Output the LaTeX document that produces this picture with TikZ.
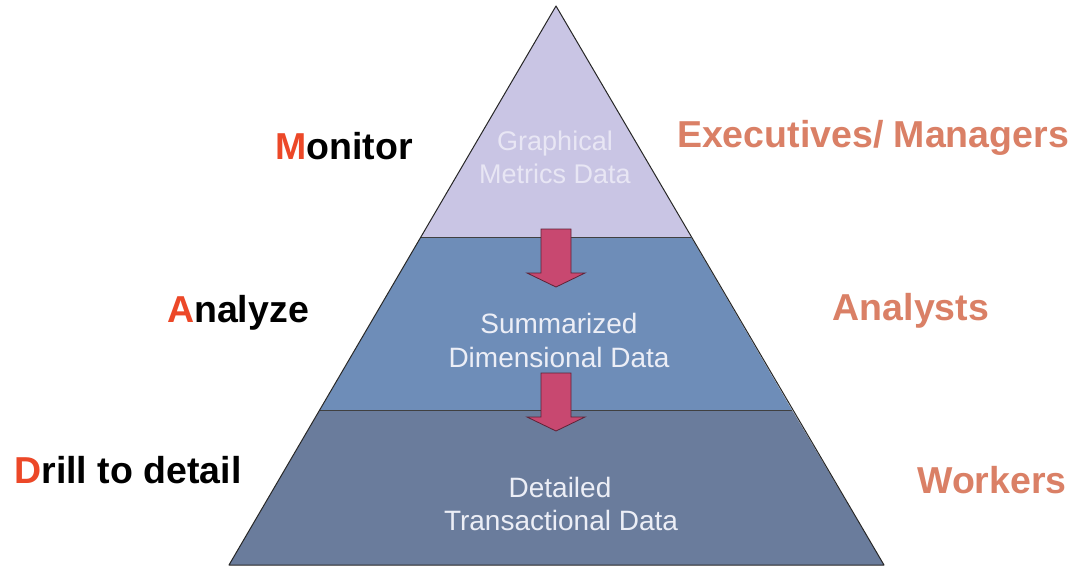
\documentclass[tikz,border=0pt]{standalone}
\usepackage{fontspec}
\setmainfont{Liberation Sans}
\begin{document}
\begin{tikzpicture}[x=1pt,y=-1pt,
  tierline/.style={draw=black!75, line width=0.8pt},
  outline/.style={draw=black!85, line width=1pt, line join=round},
  blockarrow/.style={fill=arrowpink, draw=arrowdark, line width=0.8pt, line join=miter},
  leftlabel/.style={anchor=base, font=\fontsize{37.5}{40}\selectfont\bfseries, text=black},
  rightlabel/.style={anchor=base, font=\fontsize{37.5}{40}\selectfont\bfseries, text=salmon},
  innertext/.style={anchor=base, font=\fontsize{28}{30}\selectfont, text=innerwhite},
]
\definecolor{topfill}{RGB}{201,197,228}
\definecolor{midfill}{RGB}{110,141,184}
\definecolor{botfill}{RGB}{106,124,156}
\definecolor{arrowpink}{RGB}{200,72,112}
\definecolor{arrowdark}{RGB}{95,35,55}
\definecolor{salmon}{RGB}{218,128,102}
\definecolor{initred}{RGB}{236,72,40}
\definecolor{innerwhite}{RGB}{236,238,246}
\definecolor{toptext}{RGB}{232,230,244}

\fill[white] (0,0) rectangle (1079,567);
\useasboundingbox (0,0) rectangle (1079,567);

% pyramid geometry
\coordinate (apex) at (556,6);
\coordinate (bl) at (229,565);
\coordinate (br) at (884,565);
\coordinate (l1) at (421,237);
\coordinate (r1) at (691,237);
\coordinate (l2) at (320,410);
\coordinate (r2) at (792,410);

\fill[topfill] (apex) -- (r1) -- (l1) -- cycle;
\fill[midfill] (l1) -- (r1) -- (r2) -- (l2) -- cycle;
\fill[botfill] (l2) -- (r2) -- (br) -- (bl) -- cycle;
\draw[tierline] (l1) -- (r1);
\draw[tierline] (l2) -- (r2);
\draw[outline] (apex) -- (br) -- (bl) -- cycle;

% block arrows
\draw[blockarrow] (541,229) -- ++(30,0) -- ++(0,44) -- ++(14,0) -- ++(-29,14)
  -- ++(-29,-14) -- ++(14,0) -- cycle;
\draw[blockarrow] (541,373) -- ++(30,0) -- ++(0,44) -- ++(14,0) -- ++(-29,14)
  -- ++(-29,-14) -- ++(14,0) -- cycle;

% inner texts
\node[innertext, text=toptext, font=\fontsize{27}{30}\selectfont] (g1) at (555,150) {Graphical};
\node[innertext, text=toptext, font=\fontsize{27}{30}\selectfont] (g2) at (555,183) {Metrics Data};
\node[innertext] (s1) at (559,333) {Summarized};
\node[innertext] (s2) at (559,367) {Dimensional Data};
\node[innertext] (d1) at (560,497) {Detailed};
\node[innertext] (d2) at (561,530) {Transactional Data};

% left labels
\node[leftlabel] (mon) at (344,160) {\textcolor{initred}{M}onitor};
\node[leftlabel] (ana) at (238,322) {\textcolor{initred}{A}nalyze};
\node[leftlabel] (dri) at (128,483) {\textcolor{initred}{D}rill to detail};

% right labels
\node[rightlabel] (exe) at (873,148) {Executives/ Managers};
\node[rightlabel] (anl) at (911,320) {Analysts};
\node[rightlabel] (wor) at (992,493) {Workers};
\end{tikzpicture}
\end{document}
